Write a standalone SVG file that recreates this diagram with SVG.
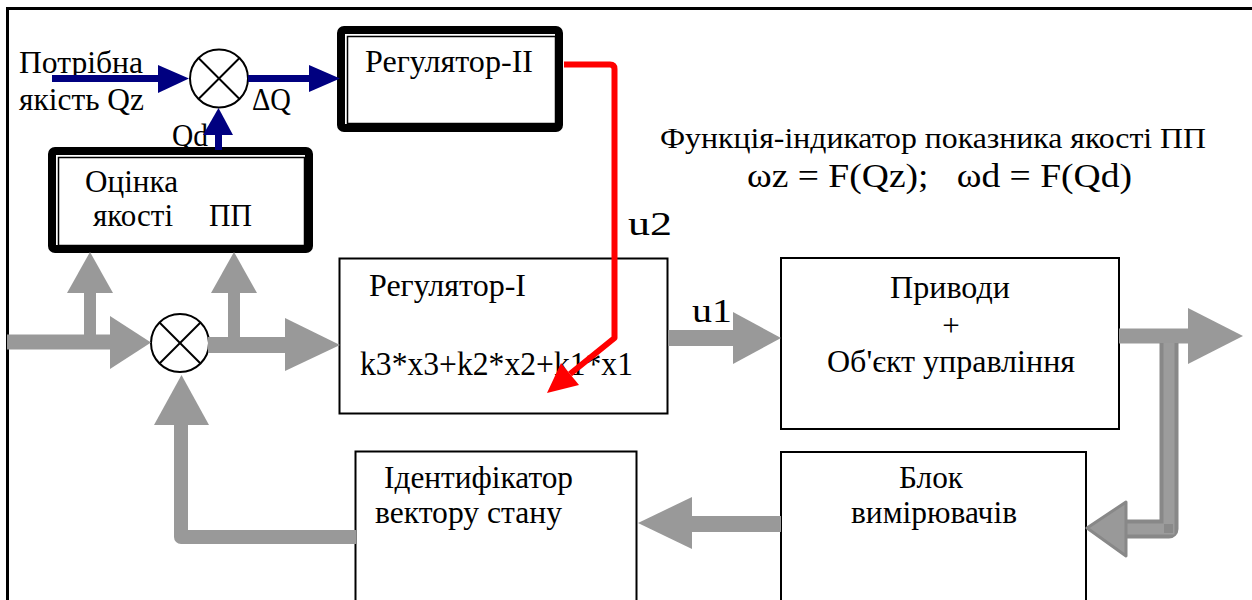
<svg xmlns="http://www.w3.org/2000/svg" width="1252" height="600" viewBox="0 0 1252 600">
<style>
text{font-family:"Liberation Serif","Times New Roman",serif;fill:#000}
.t{font-size:31px}
.big{font-size:34px}
.box{fill:#fff;stroke:#000;stroke-width:2}
.thick{fill:none;stroke:#000;stroke-width:8}
.thin{fill:none;stroke:#000;stroke-width:1.5}
.sum{fill:#fff;stroke:#000;stroke-width:2}
.x{stroke:#000;stroke-width:2}
.g{stroke:#999;fill:none}
.gh{fill:#999}
.b{stroke:#000080;stroke-width:7;fill:none}
.bh{fill:#000080}
</style>
<rect width="1252" height="600" fill="#fff"/>
<path d="M7.5,600 V8.5 H1252" fill="none" stroke="#000" stroke-width="3"/>

<g id="reg2">
<rect x="341" y="30" width="218" height="98" rx="3" class="thick" fill="#fff"/>
<rect x="347.5" y="36.5" width="208" height="87" class="thin"/>
<text class="t" x="365" y="72" textLength="168" lengthAdjust="spacingAndGlyphs">Регулятор-II</text>
</g>

<g id="otsinka">
<rect x="52" y="151" width="257" height="98" rx="3" class="thick"/>
<rect x="58.5" y="157.5" width="246" height="88" class="thin"/>
<text class="t" x="85" y="192" textLength="93" lengthAdjust="spacingAndGlyphs">Оцінка</text>
<text class="t" x="93" y="226" textLength="80" lengthAdjust="spacingAndGlyphs">якості</text>
<text class="t" x="209" y="226" textLength="43" lengthAdjust="spacingAndGlyphs">ПП</text>
</g>

<g id="reg1">
<rect x="339.5" y="258.5" width="328" height="155" class="box"/>
<text class="t" x="369" y="296" textLength="157" lengthAdjust="spacingAndGlyphs">Регулятор-I</text>
<text class="big" x="360" y="375" textLength="273" lengthAdjust="spacingAndGlyphs">k3*x3+k2*x2+k1*x1</text>
</g>

<g id="pryvody">
<rect x="781" y="258" width="338" height="171" class="box"/>
<text class="t" x="950" y="298" text-anchor="middle" textLength="120" lengthAdjust="spacingAndGlyphs">Приводи</text>
<text class="t" x="951" y="336" text-anchor="middle">+</text>
<text class="t" x="951" y="372" text-anchor="middle" textLength="248" lengthAdjust="spacingAndGlyphs">Об'єкт управління</text>
</g>

<g id="ident">
<rect x="355.5" y="451.5" width="281" height="160" class="box"/>
<text class="t" x="384" y="488" textLength="189" lengthAdjust="spacingAndGlyphs">Ідентифікатор</text>
<text class="t" x="375" y="523" textLength="187" lengthAdjust="spacingAndGlyphs">вектору стану</text>
</g>

<g id="blok">
<rect x="781" y="452" width="305" height="160" class="box"/>
<text class="t" x="931" y="488" text-anchor="middle" textLength="64" lengthAdjust="spacingAndGlyphs">Блок</text>
<text class="t" x="934" y="523" text-anchor="middle" textLength="166" lengthAdjust="spacingAndGlyphs">вимірювачів</text>
</g>

<g id="sum1">
<circle cx="219" cy="78.5" r="29" class="sum"/>
<line x1="198.5" y1="58" x2="239.5" y2="99" class="x"/>
<line x1="239.5" y1="58" x2="198.5" y2="99" class="x"/>
</g>

<g id="sum2">
<circle cx="180" cy="343" r="29" class="sum"/>
<line x1="159.5" y1="322.5" x2="200.5" y2="363.5" class="x"/>
<line x1="200.5" y1="322.5" x2="159.5" y2="363.5" class="x"/>
</g>

<g id="labels">
<text class="t" x="19" y="73" textLength="124" lengthAdjust="spacingAndGlyphs">Потрібна</text>
<text class="t" x="19" y="110" textLength="125" lengthAdjust="spacingAndGlyphs">якість Qz</text>
<text class="t" x="252" y="110" textLength="39" lengthAdjust="spacingAndGlyphs">ΔQ</text>
<text class="t" x="172" y="146" textLength="36" lengthAdjust="spacingAndGlyphs">Qd</text>
<text class="big" x="628" y="235" textLength="44" lengthAdjust="spacingAndGlyphs">u2</text>
<text class="big" x="692" y="322" textLength="40" lengthAdjust="spacingAndGlyphs">u1</text>
<text style="font-size:29px" x="660" y="148" textLength="546" lengthAdjust="spacingAndGlyphs">Функція-індикатор показника якості ПП</text>
<text class="big" x="747" y="187" textLength="385" lengthAdjust="spacingAndGlyphs" xml:space="preserve">ωz = F(Qz);   ωd = F(Qd)</text>
</g>

<g id="connectors">
<line x1="52" y1="78.5" x2="160" y2="78.5" class="b"/>
<polygon points="158,65 189,78.5 158,93" class="bh"/>
<line x1="248" y1="78.5" x2="311" y2="78.5" class="b"/>
<polygon points="309,65 340,78.5 309,92" class="bh"/>
<line x1="218.5" y1="150" x2="218.5" y2="133" class="b"/>
<polygon points="203,135 218.5,108 233,135" class="bh"/>
<line x1="7" y1="342" x2="112" y2="342" class="g" stroke-width="15"/>
<polygon points="110,316 151,342.5 110,369" class="gh"/>
<line x1="90" y1="342" x2="90" y2="291" class="g" stroke-width="12"/>
<polygon points="67,293 90,252 113,293" class="gh"/>
<line x1="208" y1="345" x2="287" y2="345" class="g" stroke-width="16"/>
<polygon points="285,318 340,345 285,371" class="gh"/>
<line x1="234" y1="346" x2="234" y2="291" class="g" stroke-width="12"/>
<polygon points="211,293 234,252 257,293" class="gh"/>
<path d="M356,537 H181 V423" class="g" stroke-width="14" stroke-linejoin="round"/>
<polygon points="154,425 181.5,375 209,425" class="gh"/>
<line x1="668" y1="338" x2="735" y2="338" class="g" stroke-width="16"/>
<polygon points="733,312 781,338 733,364" class="gh"/>
<line x1="1119" y1="336" x2="1190" y2="336" class="g" stroke-width="15"/>
<polygon points="1188,308 1243,336 1188,364" class="gh"/>
<path d="M1169,343 V529 H1124" fill="none" stroke="#888" stroke-width="19" stroke-linejoin="round"/>
<path d="M1169,343 V529 H1124" fill="none" stroke="#9c9c9c" stroke-width="11" stroke-linejoin="miter"/>
<rect x="1164" y="524" width="9" height="9" fill="#8a8a8a"/>
<polygon points="1126,502 1087,528 1126,556" fill="#999" stroke="#888" stroke-width="3" stroke-linejoin="round"/>
<line x1="781" y1="524" x2="690" y2="524" class="g" stroke-width="16"/>
<polygon points="692,497 638,523 692,549" class="gh"/>
<path d="M564,64.5 H610 Q614.5,64.5 614.5,69 V338 L570,374" fill="none" stroke="#f00" stroke-width="6" stroke-linejoin="round"/>
<polygon points="547,393 579,385 561,363" fill="#f00"/>
</g>
</svg>
